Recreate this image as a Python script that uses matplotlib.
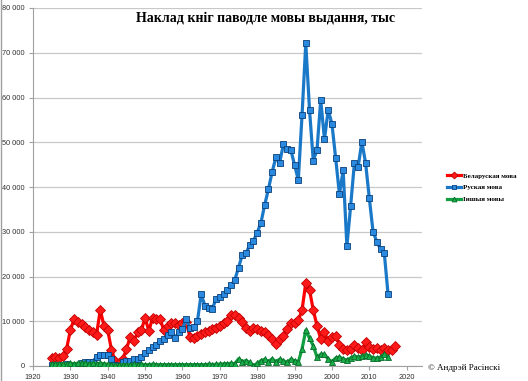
import numpy as np
import matplotlib.pyplot as plt
from matplotlib.ticker import FuncFormatter

plt.rcParams['font.family'] = ['Liberation Sans', 'DejaVu Sans']

# Наклад кніг па мове выдання, тыс. экз.
years_by = list(range(1925, 2018))
years_ru = list(range(1925, 2016))
years_ot = list(range(1925, 2016))

belarusian = [1700, 2000, 1800, 2300, 3900, 8000, 10500, 9800, 9400, 8800,
              8000, 7500, 7000, 12500, 9000, 8000, 3600, 1200, 700, 1500,
              3700, 6500, 5500, 7500, 8000, 10800, 7800, 10800, 10500, 10500,
              8000, 9000, 9500, 9500, 9200, 9500, 9800, 6500, 6200, 6800,
              7200, 7500, 7800, 8200, 8500, 9000, 9500, 10000, 11500, 11300,
              10800, 9800, 8500, 7800, 8500, 8200, 7800, 7500, 7000, 6000,
              5000, 6000, 6800, 8200, 9500, 9500, 10200, 12500, 18600, 17000,
              12500, 9000, 6000, 7500, 5500, 6500, 6800, 4800, 3900, 3600,
              3800, 4600, 4000, 3500, 5300, 4300, 3800, 4000, 3600, 4000,
              3500, 3600, 4400]

russian = [200, 300, 300, 300, 400, 300, 200, 300, 600, 800,
           900, 1000, 2000, 2500, 2500, 2500, 1500, 200, 100, 800,
           1200, 1200, 1500, 1500, 2000, 2800, 3500, 4300, 4800, 5500,
           6000, 7000, 7500, 6300, 7500, 8300, 10500, 8500, 8800, 10000,
           16000, 13500, 13000, 12800, 15000, 15500, 16000, 17000, 18000, 19200,
           22000, 24800, 25200, 27000, 28000, 29800, 32000, 36000, 39500, 43400,
           46600, 45400, 49500, 48500, 48300, 44900, 41600, 56100, 72100, 57200,
           45900, 48300, 59400, 50700, 57200, 54100, 46400, 38400, 43700, 26800,
           35700, 45300, 44400, 50100, 45400, 37500, 30000, 27800, 26100, 25300,
           16200]

other = [400, 500, 400, 500, 500, 600, 500, 600, 700, 600,
         500, 600, 500, 600, 500, 400, 300, 200, 200, 300,
         300, 300, 400, 300, 400, 300, 300, 400, 300, 300,
         300, 300, 300, 300, 300, 300, 300, 300, 300, 300,
         300, 300, 400, 300, 400, 400, 500, 500, 600, 500,
         1600, 1000, 1200, 800, 100, 600, 1200, 1500, 1000, 1600,
         1000, 1500, 1200, 800, 1500, 1200, 900, 3800, 8000, 6200,
         4500, 2000, 2600, 2600, 1500, 1000, 1800, 2000, 1600, 1300,
         1800, 2200, 2000, 2200, 2500, 2300, 1800, 1800, 2000, 2600,
         2000]

labels = ["Беларуская мова", "Руская мова", "Іншыя мовы"]
x_ticks = list(range(1920, 2021, 10))
y_ticks = list(range(0, 80001, 10000))

fig = plt.figure(figsize=(5.28, 3.81), dpi=100)
ax = fig.add_axes([33 / 528, 15 / 381, 389 / 528, 358 / 381])

ax.grid(axis="y", color="#c8c8c8", linewidth=0.9)
ax.set_axisbelow(True)

ax.plot(years_by, belarusian, color="#ff0000", lw=2.3, marker="D", ms=4.8,
        mfc="#ff1a1a", mec="#c00000", mew=0.6, label=labels[0], zorder=3)
ax.plot(years_ru, russian, color="#1a78c8", lw=2.3, marker="s", ms=5,
        mfc="#2a8ae0", mec="#0a3f78", mew=0.6, label=labels[1], zorder=4)
ax.plot(years_ot, other, color="#10a040", lw=2.3, marker="^", ms=5,
        mfc="#18b048", mec="#0a6a2a", mew=0.6, label=labels[2], zorder=5)

ax.set_xlim(1920, 2024.1)
ax.set_ylim(0, 80000)
ax.set_xticks(x_ticks)
ax.set_yticks(y_ticks)
ax.yaxis.set_major_formatter(FuncFormatter(lambda v, p: f"{int(v):,}".replace(",", " ")))
ax.tick_params(labelsize=5.3, length=3, color="#a0a0a0", pad=3, labelcolor="#303030")
for s in ["top", "right"]:
    ax.spines[s].set_visible(False)
for s in ["left", "bottom"]:
    ax.spines[s].set_color("#a0a0a0")

fig.text(265 / 528, 1 - 18 / 381, "Наклад кніг паводле мовы выдання, тыс",
         ha="center", va="center", fontsize=10, fontweight="bold",
         family="Liberation Serif")

leg = fig.legend(loc="upper left", bbox_to_anchor=(444 / 528, 1 - 170 / 381),
                 frameon=False, handlelength=2.0, handletextpad=0.35,
                 labelspacing=0.85, borderaxespad=0,
                 prop={"family": "Liberation Serif", "size": 5, "weight": "bold"})
for h in leg.legend_handles:
    h.set_markersize(3.5)

fig.text(428 / 528, 1 - 368 / 381, "© Андрэй Расінскі", ha="left", va="center",
         fontsize=6.5, family="Liberation Serif")

fig.add_artist(plt.Line2D([0.002, 0.002], [0, 1], color="#a0a0a0", lw=1))

fig.savefig("out.png", dpi=100)
